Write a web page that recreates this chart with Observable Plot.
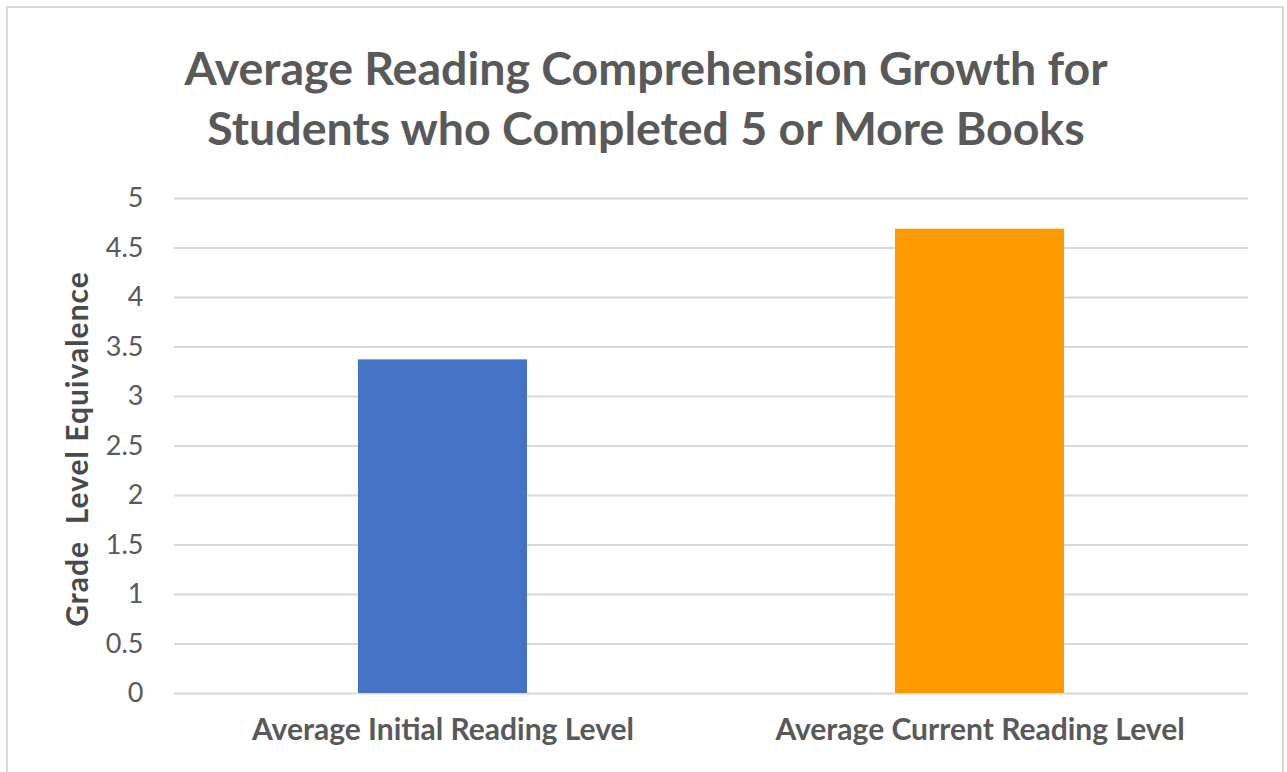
<!DOCTYPE html>
<html>
<head>
<meta charset="utf-8">
<script src="https://cdn.jsdelivr.net/npm/d3@7"></script>
<script src="https://cdn.jsdelivr.net/npm/@observablehq/plot@0.6"></script>
<style>
  html, body { margin: 0; padding: 0; background: #fff; overflow: hidden; }
  #wrap { position: relative; width: 1287px; height: 772px; overflow: hidden; font-family: Lato, "Open Sans", sans-serif; }
  #frame { position: absolute; left: 6px; top: 6px; width: 1278px; height: 800px; border: 2px solid #d9d9d9; box-sizing: border-box; }
  #title { position: absolute; left: 0; top: 37px; width: 1292px; text-align: center; font-weight: 700; font-size: 46.5px; line-height: 60px; color: #595959; }
  #chart { position: absolute; left: 0; top: 160px; }
</style>
</head>
<body>
<div id="wrap">
  <div id="frame"></div>
  <div id="title">Average Reading Comprehension Growth for<br>Students who Completed 5 or More Books</div>
  <div id="chart"></div>
</div>
<script>
const categories = ["Average Initial Reading Level", "Average Current Reading Level"];
const values = [3.37, 4.69];
const colors = ["#4472C4", "#FF9900"];
const yTicks = [0, 0.5, 1, 1.5, 2, 2.5, 3, 3.5, 4, 4.5, 5];
const yLabel = "Grade  Level Equivalence";

const data = categories.map((c, i) => ({category: c, value: values[i], color: colors[i]}));

const chart = Plot.plot({
  width: 1287,
  height: 612,
  marginTop: 38,
  marginBottom: 79,
  marginLeft: 174,
  marginRight: 39,
  style: {fontFamily: "Lato, 'Open Sans', sans-serif", background: "transparent"},
  x: {domain: categories, paddingInner: 0.686, paddingOuter: 0.343, label: null},
  y: {domain: [0, 5], ticks: yTicks, label: null},
  marks: [
    Plot.gridY(yTicks, {stroke: "#d9d9d9", strokeOpacity: 1, strokeWidth: 2}),
    Plot.barY(data, {x: "category", y: "value", fill: "color"}),
    Plot.axisY({ticks: yTicks, tickSize: 0, tickPadding: 31, fontSize: 27, fill: "#595959", tickFormat: d => String(d), label: null}),
    Plot.axisX({tickSize: 0, tickPadding: 25, fontSize: 30, fontWeight: 700, fill: "#595959", label: null}),
    Plot.text([yLabel], {frameAnchor: "left", textAnchor: "middle", dx: -96, dy: 3, rotate: -90, fontSize: 30, fontWeight: 700, fill: "#4a4a4a", text: d => d, className: "ylab"})
  ]
});
document.getElementById("chart").appendChild(chart);
d3.select(chart).selectAll("text").style("white-space", "pre");
d3.select(chart).selectAll(".ylab text").style("letter-spacing", "1px");
</script>
</body>
</html>
